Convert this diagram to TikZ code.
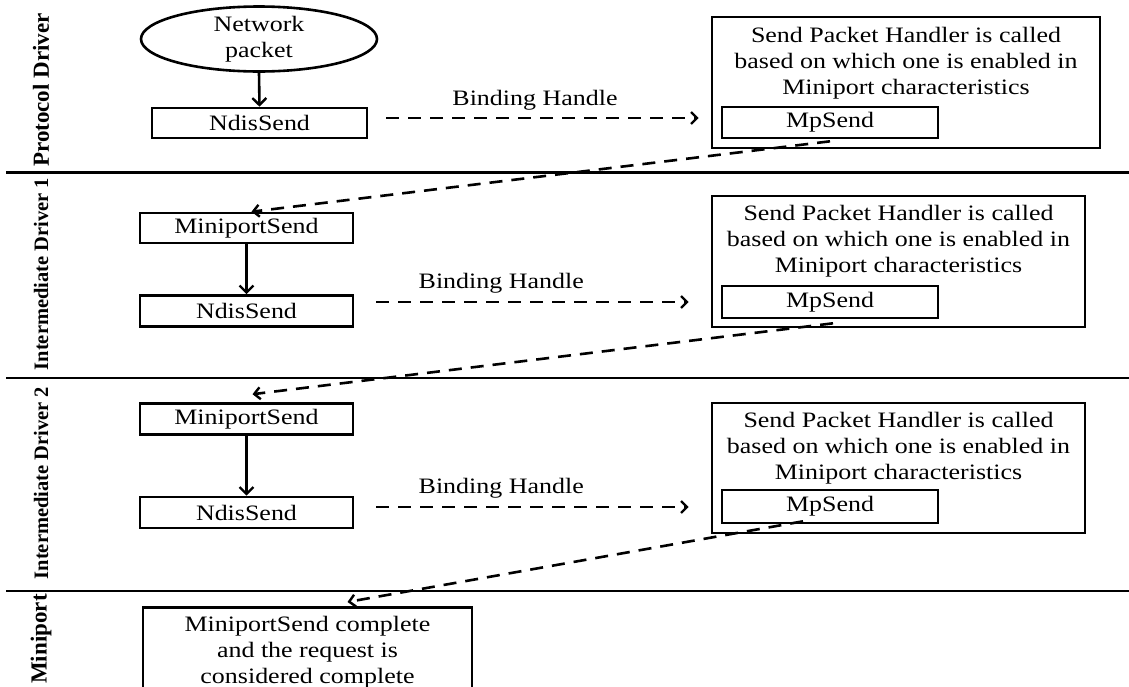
\documentclass[tikz,border=0pt]{standalone}
\usepackage{fontspec}
\setmainfont{Liberation Serif}
\newfontfamily\bodyfont[FakeStretch=1.18]{Liberation Serif}
\usetikzlibrary{arrows.meta,shapes.geometric}
\begin{document}
\begin{tikzpicture}[x=1pt,y=-1pt,
  bodytxt/.style={font=\bodyfont\fontsize{22}{26}\selectfont, align=center, inner sep=0pt},
  box/.style={draw, line width=2.6pt, inner sep=0pt, font=\bodyfont\fontsize{22}{26}\selectfont},
  lanelbl/.style={font=\bfseries\selectfont, rotate=90, inner sep=0pt},
  laneline/.style={line width=2.4pt},
  solidarrow/.style={line width=2.6pt, -{Straight Barb[length=7pt,width=14pt,line width=2.4pt]}},
  dasharrow/.style={line width=2.6pt, dash pattern=on 13pt off 9pt, -{Straight Barb[length=6pt,width=12pt,line width=2.4pt]}},
  bindlbl/.style={font=\bodyfont\fontsize{22}{26}\selectfont, inner sep=0pt}
]
\useasboundingbox (0,0) rectangle (1129,686);
\clip (0,0) rectangle (1129,686);
\fill[white] (0,0) rectangle (1129,686);

% lane separators
\coordinate (l1a) at (6,172.5);  \coordinate (l1b) at (1129,172.5);
\coordinate (l2a) at (6,378);    \coordinate (l2b) at (1129,378);
\coordinate (l3a) at (6,591);    \coordinate (l3b) at (1129,591);
\draw[laneline] (l1a) -- (l1b);
\draw[laneline] (l2a) -- (l2b);
\draw[laneline] (l3a) -- (l3b);

% lane labels
\node[lanelbl, font=\bfseries\fontsize{23}{24}\selectfont] (lab1) at (41,90) {Protocol Driver};
\node[lanelbl, font=\bfseries\fontsize{20.5}{24}\selectfont] (lab2) at (41,274) {Intermediate Driver 1};
\node[lanelbl, font=\bfseries\fontsize{20.5}{24}\selectfont] (lab3) at (41,483) {Intermediate Driver 2};
\node[lanelbl, font=\bfseries\fontsize{23}{24}\selectfont] (lab4) at (41,639) {Miniport};

% ---- Protocol driver lane
\node[ellipse, draw, line width=2.6pt, minimum width=236, minimum height=64, inner sep=0pt,
      bodytxt] (pkt) at (259,39) {Network\\packet};
\node[box, minimum width=215, minimum height=30] (ndis1) at (259.5,123) {NdisSend};
\node[box, minimum width=388, minimum height=131] (big1) at (906,82.5) {};
\node[bodytxt] (t1) at (906,63.5) {Send Packet Handler is called\\based on which one is enabled in\\Miniport characteristics};
\node[box, minimum width=216, minimum height=31] (mp1) at (830,122.5) {MpSend};

\draw[solidarrow] (pkt.south) -- (ndis1.north);
\draw[dasharrow] ([xshift=18pt,yshift=5pt]ndis1.east) coordinate (s1) -- ([xshift=-12pt]s1 -| big1.west)
   node[bindlbl, pos=0.476, yshift=18pt] (b1) {Binding Handle};

% ---- Intermediate driver 1 lane
\node[box, minimum width=213, minimum height=30] (mini2) at (246.5,228) {MiniportSend};
\node[box, minimum width=213, minimum height=31] (ndis2) at (246.5,311) {NdisSend};
\node[box, minimum width=373, minimum height=131] (big2) at (898.5,261.5) {};
\node[bodytxt] (t2) at (898.5,241) {Send Packet Handler is called\\based on which one is enabled in\\Miniport characteristics};
\node[box, minimum width=216, minimum height=32] (mp2) at (830,302) {MpSend};

\draw[dasharrow] ([yshift=-2pt]mp1.south) -- ([xshift=5pt]mini2.north);
\draw[solidarrow] (mini2.south) -- (ndis2.north);
\draw[dasharrow] ([xshift=22pt,yshift=9pt]ndis2.east) coordinate (s2) -- ([xshift=-22pt]s2 -| big2.west)
   node[bindlbl, pos=0.4, yshift=19pt] (b2) {Binding Handle};

% ---- Intermediate driver 2 lane
\node[box, minimum width=213, minimum height=31] (mini3) at (246.5,419) {MiniportSend};
\node[box, minimum width=213, minimum height=31] (ndis3) at (246.5,512.5) {NdisSend};
\node[box, minimum width=373, minimum height=130] (big3) at (898.5,468) {};
\node[bodytxt] (t3) at (898.5,448) {Send Packet Handler is called\\based on which one is enabled in\\Miniport characteristics};
\node[box, minimum width=216, minimum height=33] (mp3) at (830,506.5) {MpSend};

\draw[dasharrow] ([xshift=3pt,yshift=-4pt]mp2.south) -- ([xshift=6pt,yshift=8pt]mini3.north);
\draw[solidarrow] (mini3.south) -- (ndis3.north);
\draw[dasharrow] ([xshift=22pt,yshift=5.5pt]ndis3.east) coordinate (s3) -- ([xshift=-22pt]s3 -| big3.west)
   node[bindlbl, pos=0.4, yshift=19pt] (b3) {Binding Handle};

% ---- Miniport lane
\node[box, minimum width=329, minimum height=100, anchor=north] (done) at (307.5,606) {};
\node[bodytxt] (donetxt) at (307.5,652) {MiniportSend complete\\and the request is\\considered complete};

\draw[dasharrow] ([xshift=-27pt,yshift=3pt]mp3.south) -- ([xshift=40pt,yshift=4pt]done.north);
\end{tikzpicture}
\end{document}
